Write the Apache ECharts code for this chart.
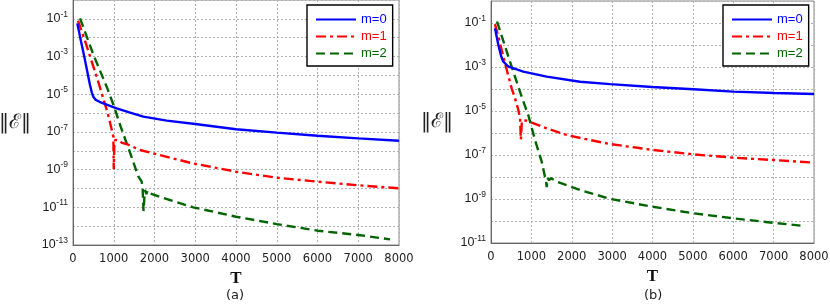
<!DOCTYPE html>
<html>
<head>
<meta charset="utf-8">
<script src="https://cdn.jsdelivr.net/npm/echarts@6/dist/echarts.min.js"></script>
<style>html,body{margin:0;padding:0;background:#fff;}#c{width:830px;height:307px;}</style>
</head>
<body>
<div id="c"></div>
<script>
// ---------- data ----------
const xTicks = [0, 1000, 2000, 3000, 4000, 5000, 6000, 7000, 8000];
const seriesNames = ['m=0', 'm=1', 'm=2'];
const panelLabels = ['(a)', '(b)'];

// panel (a)
const aT0 = [106, 200, 294, 360, 417, 460, 498, 560, 650, 744, 1072, 1400, 1726, 2300, 3000, 4000, 5000, 6000, 7000, 8000];
const aE0 = [5.75e-2, 5.89e-3, 6.46e-4, 1.26e-4, 3.09e-5, 1.26e-5, 7.41e-6, 5.01e-6, 3.98e-6, 3.31e-6, 1.78e-6, 1.05e-6, 6.46e-7, 3.98e-7, 2.63e-7, 1.38e-7, 9.12e-8, 6.31e-8, 4.57e-8, 3.39e-8];
const aT1 = [123, 300, 450, 600, 740, 850, 908, 990, 1000, 1015, 1035, 1080, 1130, 1200, 1317, 1644, 2135, 2900, 4000, 5000, 6000, 7000, 8000];
const aE1 = [7.94e-2, 6.31e-3, 6.31e-4, 6.31e-5, 6.31e-6, 1.0e-6, 3.16e-7, 5.62e-8, 1.05e-9, 2.51e-8, 3.72e-8, 3.02e-8, 3.55e-8, 2.63e-8, 2.29e-8, 1.10e-8, 5.89e-9, 2.24e-9, 7.76e-10, 3.72e-10, 2.29e-10, 1.48e-10, 1.02e-10];
const aT2 = [172, 500, 826, 1000, 1170, 1400, 1600, 1685, 1710, 1730, 1765, 1800, 1830, 1870, 2135, 2950, 4000, 5000, 6000, 7000, 7780];
const aE2 = [1.07e-1, 1.26e-3, 2.51e-5, 2.51e-6, 1.91e-7, 7.94e-9, 4.47e-10, 2.29e-10, 1.0e-10, 6.31e-12, 8.32e-11, 5.01e-11, 7.59e-11, 5.62e-11, 3.55e-11, 1.0e-11, 3.16e-12, 1.29e-12, 5.75e-13, 3.39e-13, 2.0e-13];

// panel (b)
const bT0 = [99, 182, 250, 306, 400, 471, 801, 1379, 2204, 2950, 3990, 5011, 6002, 7030, 8000];
const bE0 = [5.75e-2, 1.0e-2, 3.16e-3, 1.74e-3, 1.17e-3, 9.77e-4, 6.17e-4, 3.63e-4, 2.14e-4, 1.66e-4, 1.23e-4, 9.77e-5, 7.59e-5, 6.61e-5, 5.89e-5];
const bT1 = [99, 200, 347, 512, 594, 677, 720, 740, 765, 860, 966, 1379, 1875, 2452, 2950, 3995, 5011, 6002, 7017, 8000];
const bE1 = [8.91e-2, 1.78e-2, 1.48e-3, 1.07e-4, 3.80e-5, 1.12e-5, 4.47e-6, 5.01e-7, 3.55e-6, 3.72e-6, 3.16e-6, 1.62e-6, 8.13e-7, 4.79e-7, 3.16e-7, 1.70e-7, 1.07e-7, 7.59e-8, 5.89e-8, 4.47e-8];
const bT2 = [150, 471, 760, 925, 1090, 1255, 1337, 1360, 1379, 1400, 1440, 1480, 1627, 2204, 2947, 3995, 5011, 6002, 7034, 7720];
const bE2 = [1.17e-1, 1.74e-3, 4.47e-5, 6.31e-6, 4.79e-7, 5.01e-8, 1.02e-8, 7.94e-9, 3.47e-9, 8.91e-9, 7.08e-9, 8.91e-9, 6.17e-9, 2.57e-9, 1.02e-9, 4.47e-10, 2.24e-10, 1.32e-10, 8.13e-11, 6.03e-11];

const yMinA = 1e-13, yMinB = 1e-11, yMax = 1;

// ---------- styling ----------
const colors = ['#0000ff', '#ff0000', '#006400'];
const dashes = ['solid', [10, 4, 3, 4], [9, 5]];

function pairs(t, e) { return t.map((v, i) => [v, e[i]]); }

const chart = echarts.init(document.getElementById('c'), null, {renderer: 'canvas'});

function yLabel(v) {
  const k = Math.round(Math.log10(v));
  if (k % 2 === 0) return '';
  return '{b|10}{s|' + k + '}';
}

function makeX(gi) {
  return {
    gridIndex: gi, type: 'value', min: 0, max: 8000, interval: 1000,
    name: 'T', nameLocation: 'middle', nameGap: 24,
    nameTextStyle: {fontFamily: 'Liberation Serif', fontWeight: 'bold', fontSize: 17, color: '#111'},
    axisLine: {onZero: false, lineStyle: {color: '#666', width: 1}},
    axisTick: {show: false},
    axisLabel: {fontFamily: 'DejaVu Sans', fontSize: 11.5, color: '#222', margin: 8,
      formatter: v => xTicks.indexOf(v) >= 0 ? String(v) : ''},
    splitLine: {show: true, lineStyle: {color: '#b0b0b0', type: [2, 2], width: 1}}
  };
}
function makeY(gi, mn, gap) {
  return {
    gridIndex: gi, type: 'log', logBase: 10, min: mn, max: yMax, interval: 1,
    name: '‖ℰ‖', nameLocation: 'middle', nameRotate: 0, nameGap: gap,
    nameTextStyle: {fontFamily: 'DejaVu Serif', fontSize: 20, color: '#222', padding: [8, 0, 0, 0]},
    axisLine: {show: true, lineStyle: {color: '#666', width: 1}},
    axisTick: {show: false},
    axisLabel: {margin: 5, formatter: yLabel,
      rich: {
        b: {fontFamily: 'Liberation Sans', fontSize: 12.5, color: '#222', lineHeight: 18},
        s: {fontFamily: 'Liberation Sans', fontSize: 8.5, color: '#222', verticalAlign: 'top', lineHeight: 10}
      }},
    splitLine: {show: true, lineStyle: {color: '#b0b0b0', type: [2, 2], width: 1}}
  };
}
function makeSeries(gi, t0, e0, t1, e1, t2, e2) {
  const ts = [t0, t1, t2], es = [e0, e1, e2];
  return seriesNames.map((n, i) => ({
    name: n, type: 'line', xAxisIndex: gi, yAxisIndex: gi,
    data: pairs(ts[i], es[i]), symbol: 'none', showSymbol: false, smooth: false,
    lineStyle: {color: colors[i], width: 2.4, type: dashes[i]},
    itemStyle: {color: colors[i]},
    z: 3 - i, animation: false
  }));
}
function makeLegend(left) {
  return {
    orient: 'vertical', left: left, top: 5,
    data: seriesNames.map((n, i) => ({name: n, textStyle: {color: colors[i]}, itemStyle: {opacity: 0}})),
    itemWidth: 40, itemHeight: 12, itemGap: 4,
    itemStyle: {opacity: 0},
    padding: [8, 6, 6, 8],
    backgroundColor: '#fff', borderColor: '#000', borderWidth: 1.4,
    textStyle: {fontFamily: 'Liberation Sans', fontSize: 13},
    selectedMode: false
  };
}

const option = {
  animation: false,
  backgroundColor: '#fff',
  grid: [
    {left: 73, top: 0, width: 326, height: 245, show: true, borderColor: '#888', borderWidth: 1, backgroundColor: 'transparent', containLabel: false, outerBoundsMode: 'none'},
    {left: 491, top: 1, width: 323, height: 242, show: true, borderColor: '#888', borderWidth: 1, backgroundColor: 'transparent', containLabel: false, outerBoundsMode: 'none'}
  ],
  xAxis: [makeX(0), makeX(1)],
  yAxis: [makeY(0, yMinA, 42), makeY(1, yMinB, 38)],
  legend: [makeLegend(307), makeLegend(723)],
  graphic: [
    {type: 'text', left: 226, top: 289, style: {text: panelLabels[0], font: '13px "DejaVu Sans"', fill: '#222'}},
    {type: 'text', left: 644, top: 289, style: {text: panelLabels[1], font: '13px "DejaVu Sans"', fill: '#222'}}
  ],
  series: [].concat(
    makeSeries(0, aT0, aE0, aT1, aE1, aT2, aE2),
    makeSeries(1, bT0, bE0, bT1, bE1, bT2, bE2)
  )
};
chart.setOption(option);
</script>
</body>
</html>
